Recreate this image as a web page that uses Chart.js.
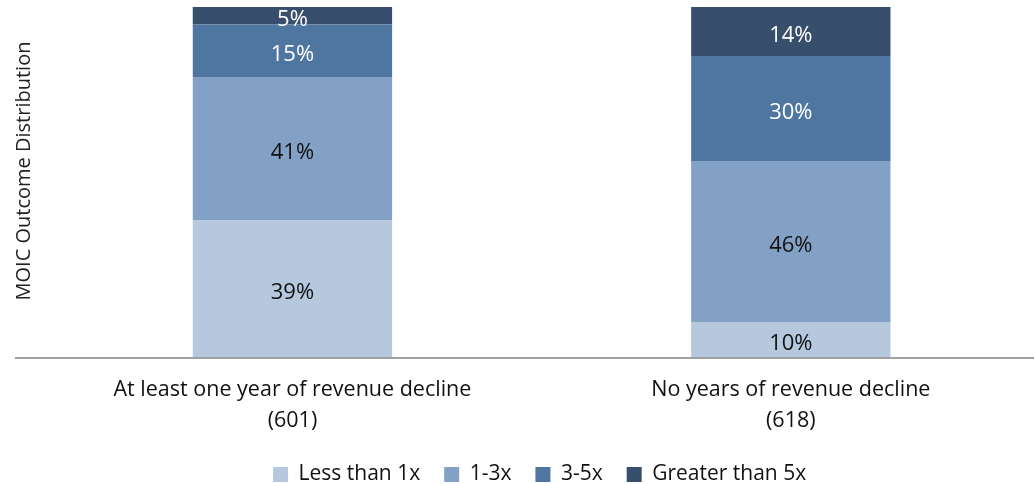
<!DOCTYPE html>
<html>
<head>
<meta charset="utf-8">
<script src="https://cdn.jsdelivr.net/npm/chart.js@4/dist/chart.umd.min.js"></script>
<style>
  html, body { margin: 0; padding: 0; background: #fff; overflow: hidden; }
  #wrap { position: relative; width: 1040px; height: 495px; }
</style>
</head>
<body>
<div id="wrap"><canvas id="c"></canvas></div>
<script>
const categories = [
  ["At least one year of revenue decline", "(601)"],
  ["No years of revenue decline", "(618)"]
];
const seriesNames = ["Less than 1x", "1-3x", "3-5x", "Greater than 5x"];
const lessThan1x = [39, 10];
const oneToThreeX = [41, 46];
const threeToFiveX = [15, 30];
const greaterThan5x = [5, 14];
const yAxisTitle = "MOIC Outcome Distribution";

const colors = ["#b5c8de", "#82a1c4", "#4f76a1", "#374f6d"];
const labelColors = ["#111111", "#111111", "#ffffff", "#ffffff"];
const FONT = "Open Sans";

const valueLabels = {
  id: "valueLabels",
  afterDatasetsDraw(chart) {
    const ctx = chart.ctx;
    ctx.save();
    ctx.font = "22px '" + FONT + "'";
    ctx.textAlign = "center";
    ctx.textBaseline = "middle";
    chart.data.datasets.forEach((ds, i) => {
      const meta = chart.getDatasetMeta(i);
      meta.data.forEach((el, j) => {
        const v = ds.data[j];
        ctx.fillStyle = labelColors[i];
        ctx.fillText(v + "%", el.x, (el.y + el.base) / 2 + 4);
      });
    });
    ctx.restore();
  }
};

const axisDecor = {
  id: "axisDecor",
  afterLayout(chart) {
    if (chart.legend) {
      chart.legend.left = chart.chartArea.left - 4;
      chart.legend.right = chart.width;
    }
  },
  afterDatasetsDraw(chart) {
    const ctx = chart.ctx;
    const area = chart.chartArea;
    ctx.save();
    ctx.strokeStyle = "#a0a0a0";
    ctx.lineWidth = 2;
    ctx.beginPath();
    ctx.moveTo(15, area.bottom + 1);
    ctx.lineTo(chart.width, area.bottom + 1);
    ctx.stroke();
    ctx.translate(30, 171);
    ctx.rotate(-Math.PI / 2);
    ctx.fillStyle = "#222";
    ctx.font = "20px '" + FONT + "'";
    ctx.textAlign = "center";
    ctx.textBaseline = "alphabetic";
    ctx.fillText(yAxisTitle, 0, 0);
    ctx.restore();
  }
};

const data = [lessThan1x, oneToThreeX, threeToFiveX, greaterThan5x];

new Chart(document.getElementById("c"), {
  type: "bar",
  data: {
    labels: categories,
    datasets: data.map((d, i) => ({
      label: seriesNames[i],
      data: d,
      backgroundColor: colors[i],
      borderWidth: 0,
      barPercentage: 0.4,
      categoryPercentage: 1.0
    }))
  },
  options: {
    responsive: true,
    maintainAspectRatio: false,
    animation: false,
    layout: { padding: { top: 7, left: 0, right: 0, bottom: 0 } },
    plugins: {
      legend: {
        position: "bottom",
        labels: {
          boxWidth: 15,
          boxHeight: 15,
          padding: 24,
          color: "#111",
          font: { family: FONT, size: 21 }
        }
      },
      tooltip: { enabled: false }
    },
    scales: {
      x: {
        stacked: true,
        grid: { display: false, drawTicks: false },
        border: { display: false },
        ticks: {
          color: "#111",
          padding: 17,
          font: { family: FONT, size: 21.5, lineHeight: 1.442 }
        },
        afterFit(scale) { scale.height = 83; }
      },
      y: {
        stacked: true,
        min: 0,
        max: 100,
        grid: { display: false, drawTicks: false },
        border: { display: false },
        ticks: { display: false },
        afterFit(scale) { scale.width = 43.25; }
      }
    }
  },
  plugins: [valueLabels, axisDecor]
});
</script>
</body>
</html>
